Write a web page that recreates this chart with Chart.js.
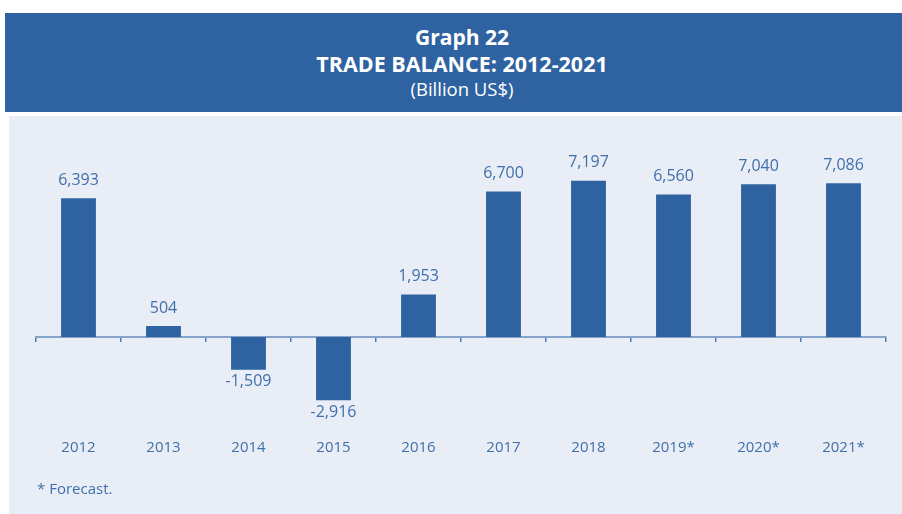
<!DOCTYPE html>
<html>
<head>
<meta charset="utf-8">
<script src="https://cdn.jsdelivr.net/npm/chart.js@4/dist/chart.umd.min.js"></script>
<style>
  html, body { margin: 0; padding: 0; background: #fff; }
  body { width: 902px; height: 514px; position: relative; overflow: hidden; font-family: 'Open Sans', sans-serif; }
  #header { position: absolute; left: 5px; top: 13px; width: 897px; height: 99px; background: #2e62a0; }
  .ttl { position: absolute; left: 0; width: 924px; text-align: center; color: #fff; white-space: nowrap; }
  #t1 { top: 23px; font-size: 21px; font-weight: 700; line-height: 28px; }
  #t2 { top: 50px; font-size: 21.5px; font-weight: 700; line-height: 28px; }
  #t3 { top: 76px; font-size: 18.5px; line-height: 26px; }
  #panel { position: absolute; left: 9px; top: 116px; width: 893px; height: 398px; background: #e9eef6; }
  #wrap { position: absolute; left: 0; top: 0; width: 902px; height: 514px; }
  #note { position: absolute; left: 37px; top: 478px; font-size: 15px; color: #3f6fab; }
</style>
</head>
<body>
<div id="header"></div>
<div class="ttl" id="t1">Graph 22</div>
<div class="ttl" id="t2">TRADE BALANCE: 2012-2021</div>
<div class="ttl" id="t3">(Billion US$)</div>
<div id="panel"></div>
<div id="wrap"><canvas id="myChart"></canvas></div>
<div id="note">* Forecast.</div>
<script>
// trade balance by year, billion US$ (2019-2021 are forecasts)
const years = ['2012', '2013', '2014', '2015', '2016', '2017', '2018', '2019*', '2020*', '2021*'];
const balance = [6393, 504, -1509, -2916, 1953, 6700, 7197, 6560, 7040, 7086];

const barColor = '#2e62a0';
const textColor = '#3f6fab';

// value labels above positive bars, below negative ones
const valueLabels = {
  id: 'valueLabels',
  afterDatasetsDraw(chart) {
    const ctx = chart.ctx;
    const meta = chart.getDatasetMeta(0);
    ctx.save();
    ctx.font = '16px "Open Sans"';
    ctx.fillStyle = textColor;
    ctx.textAlign = 'center';
    meta.data.forEach((bar, i) => {
      const v = balance[i];
      const txt = v.toLocaleString('en-US');
      if (v >= 0) {
        ctx.textBaseline = 'bottom';
        ctx.fillText(txt, bar.x, bar.y - 10);
      } else {
        ctx.textBaseline = 'top';
        ctx.fillText(txt, bar.x, bar.y + 4);
      }
    });
    ctx.restore();
  }
};

Chart.defaults.font.family = '"Open Sans", sans-serif';

const ctx = document.getElementById('myChart').getContext('2d');
new Chart(ctx, {
  type: 'bar',
  data: {
    labels: years,
    datasets: [{
      data: balance,
      backgroundColor: barColor,
      barPercentage: 0.82,
      categoryPercentage: 0.5
    }]
  },
  options: {
    responsive: true,
    maintainAspectRatio: false,
    animation: false,
    layout: { padding: { left: 36, right: 16, top: 121, bottom: 47 } },
    plugins: { legend: { display: false }, tooltip: { enabled: false } },
    scales: {
      x: {
        grid: { display: false },
        border: { display: false },
        ticks: { color: textColor, font: { size: 15 }, padding: 10 }
      },
      // zero line with small tick marks between categories
      x2: {
        type: 'category',
        position: { y: 0 },
        offset: true,
        grid: { display: true, drawOnChartArea: false, offset: true, tickLength: 4, color: '#4d78b0', lineWidth: 1.5 },
        border: { display: true, color: '#86a3ca', width: 2 },
        ticks: { display: false }
      },
      y: {
        display: false,
        min: -3870,
        max: 9950
      }
    }
  },
  plugins: [valueLabels]
});
</script>
</body>
</html>
